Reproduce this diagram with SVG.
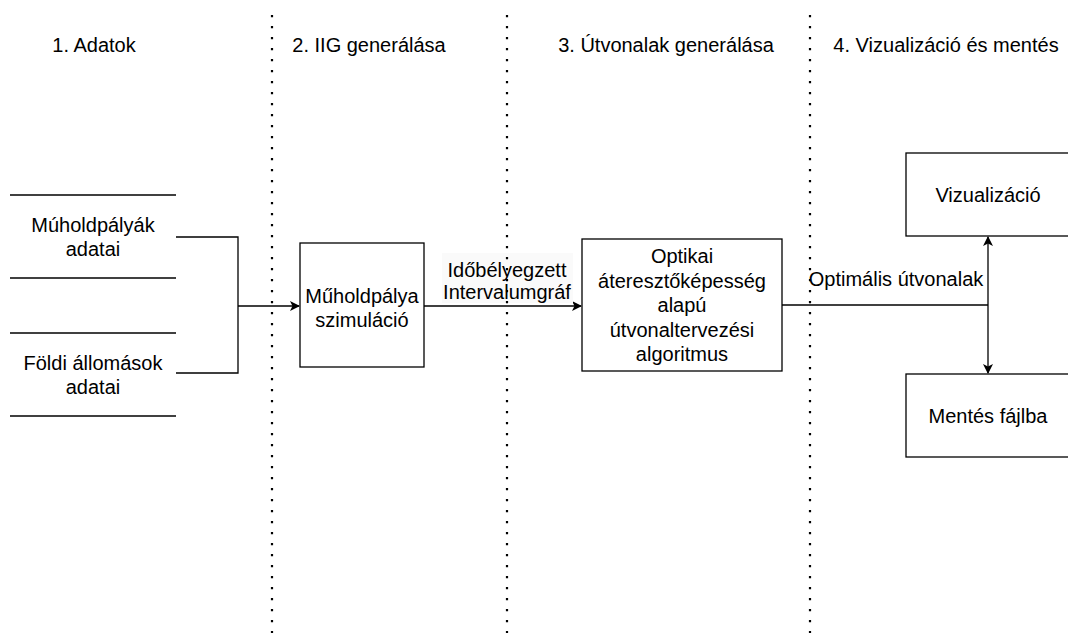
<svg xmlns="http://www.w3.org/2000/svg" width="1068" height="633" viewBox="0 0 1068 633">
<defs>
<marker id="arr" viewBox="0 0 10 10" refX="9" refY="5" markerWidth="10" markerHeight="10" markerUnits="userSpaceOnUse" orient="auto-start-reverse">
<path d="M0,0 L10,5 L0,10 L2.5,5 Z" fill="#000"/>
</marker>
<style>
text{font-family:"Liberation Sans",Arial,Helvetica,sans-serif;font-size:20px;fill:#000;text-anchor:middle}
.box{fill:#fff;stroke:#000;stroke-width:1.3}
.ln{fill:none;stroke:#000;stroke-width:1.3}
.dot{fill:none;stroke:#000;stroke-width:2.2;stroke-dasharray:2.2 8.8}
</style>
</defs>
<rect width="1068" height="633" fill="#fff"/>
<g id="headers">
<text x="94" y="52">1. Adatok</text>
<text x="369" y="52">2. IIG generálása</text>
<text x="666" y="52">3. Útvonalak generálása</text>
<text x="946" y="52">4. Vizualizáció és mentés</text>
</g>
<g id="sat-data">
<line class="ln" x1="10" y1="195" x2="176" y2="195"/>
<line class="ln" x1="10" y1="278" x2="176" y2="278"/>
<text x="93" y="232">Múholdpályák</text>
<text x="93" y="256">adatai</text>
</g>
<g id="ground-data">
<line class="ln" x1="10" y1="333" x2="176" y2="333"/>
<line class="ln" x1="10" y1="416" x2="176" y2="416"/>
<text x="93" y="370">Földi állomások</text>
<text x="93" y="394">adatai</text>
</g>
<g id="sim">
<rect class="box" x="300" y="243" width="124" height="124"/>
<text x="362" y="303">Műholdpálya</text>
<text x="362" y="327">szimuláció</text>
</g>
<g id="algo">
<rect class="box" x="582" y="239" width="200" height="132"/>
<text x="682" y="263">Optikai</text>
<text x="682" y="288">áteresztőképesség</text>
<text x="682" y="312">alapú</text>
<text x="682" y="337">útvonaltervezési</text>
<text x="682" y="361">algoritmus</text>
</g>
<g id="viz">
<rect class="box" x="906" y="153" width="170" height="83"/>
<text x="988" y="202">Vizualizáció</text>
</g>
<g id="save">
<rect class="box" x="906" y="374" width="170" height="83"/>
<text x="988" y="423">Mentés fájlba</text>
</g>
<g id="connectors">
<polyline class="ln" points="176,237 238,237 238,373 176,373"/>
<line class="ln" x1="238" y1="306" x2="299" y2="306" marker-end="url(#arr)"/>
<line class="ln" x1="424" y1="306" x2="581" y2="306" marker-end="url(#arr)"/>
<rect x="442" y="253" width="131" height="50" fill="#fafafa"/>
<text x="507" y="277">Időbélyegzett</text>
<text x="507" y="299">Intervalumgráf</text>
<line class="ln" x1="782" y1="305" x2="988" y2="305"/>
<line class="ln" x1="988" y1="237" x2="988" y2="373" marker-start="url(#arr)" marker-end="url(#arr)"/>
<text x="896" y="286">Optimális útvonalak</text>
</g>
<g id="lanes">
<line class="dot" x1="272" y1="15" x2="272" y2="633"/>
<line class="dot" x1="507" y1="15" x2="507" y2="633"/>
<line class="dot" x1="810" y1="15" x2="810" y2="633"/>
</g>
</svg>
